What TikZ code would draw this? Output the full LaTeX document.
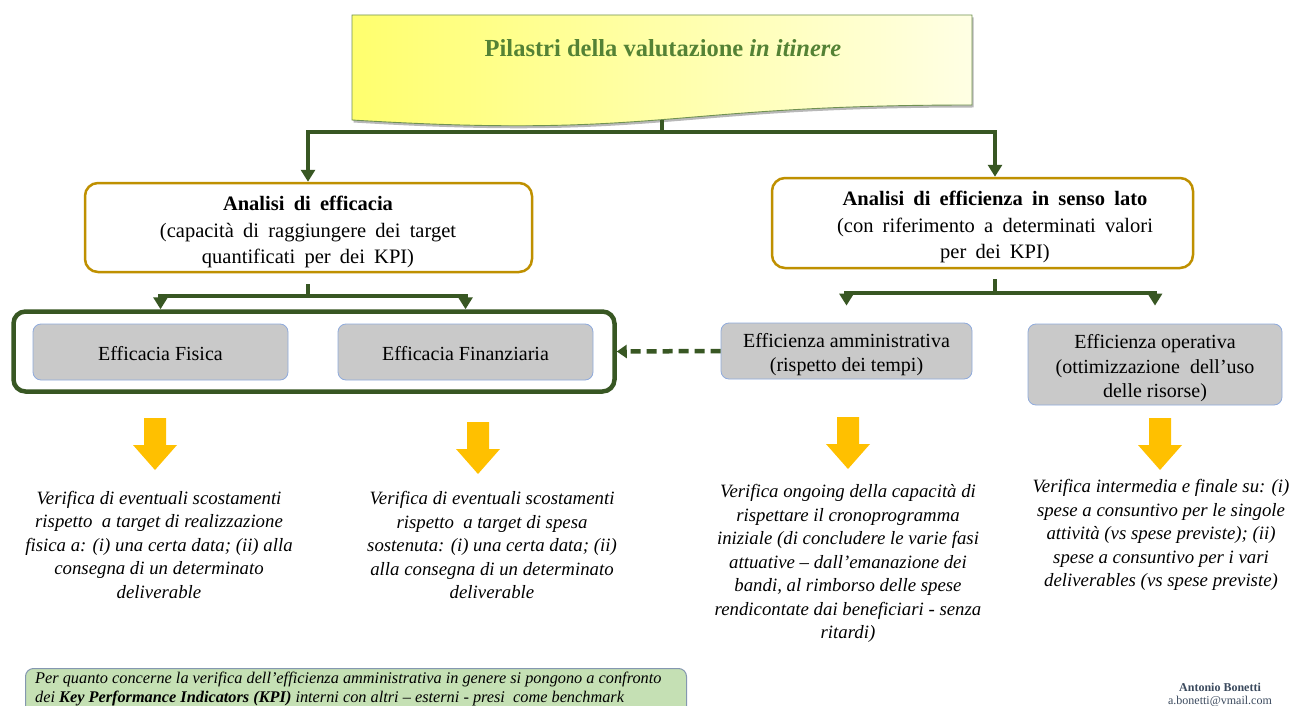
\documentclass[tikz,border=0pt]{standalone}
\usepackage{fontspec}
\setmainfont{Liberation Serif}
\usetikzlibrary{arrows.meta,calc}
\definecolor{dkgreen}{RGB}{56,87,35}
\definecolor{gold}{RGB}{191,144,0}
\definecolor{ttlgreen}{RGB}{84,130,53}
\definecolor{ttlborder}{RGB}{112,145,82}
\definecolor{ylwA}{RGB}{255,255,110}
\definecolor{ylwB}{RGB}{255,255,228}
\definecolor{boxgray}{RGB}{201,201,201}
\definecolor{boxblue}{RGB}{143,170,220}
\definecolor{amber}{RGB}{255,192,0}
\definecolor{notegreen}{RGB}{197,224,180}
\definecolor{noteborder}{RGB}{132,151,176}
\definecolor{sigcol}{RGB}{59,74,94}
\newcommand\widespaces{\spaceskip=0.45em\relax}
\begin{document}
\begin{tikzpicture}[x=1pt,y=-1pt,
  connline/.style={draw=dkgreen,line width=4.5pt},
  conarrow/.style={connline,-{Triangle[width=14pt,length=12pt]}},
  dasharrow/.style={draw=dkgreen,line width=4.5pt,dash pattern=on 10pt off 6pt,-{Triangle[width=13pt,length=10pt]}},
  goldbox/.style={draw=gold,line width=2.5pt,fill=white,rounded corners=13pt,inner sep=0pt},
  boxtxt/.style={align=center,inner sep=0pt,font=\fontsize{20.5}{26.5}\selectfont},
  graybox/.style={draw=boxblue,line width=0.8pt,fill=boxgray,rounded corners=8pt,inner sep=0pt},
  graytxt/.style={align=center,inner sep=0pt,font=\fontsize{20}{24.5}\selectfont},
  greencont/.style={draw=dkgreen,line width=4.5pt,rounded corners=12pt,inner sep=0pt},
  vtext/.style={align=center,inner sep=0pt,font=\fontsize{18.8}{23.5}\selectfont\itshape},
  yarrow/.pic={\fill[amber] (-11,0) -- (11,0) -- (11,27) -- (22,27) -- (0,52) -- (-22,27) -- (-11,27) -- cycle;}
]
\useasboundingbox (0,0) rectangle (1293,706);
\clip (0,0) rectangle (1293,706);
\fill[white] (0,0) rectangle (1293,706);

% title shape
\begin{scope}[shift={(1.5,2.5)}]
\fill[black!28] (352,15) -- (972,15) -- (972,105) .. controls (662,105) and (662,139) .. (352,120) -- cycle;
\end{scope}
\path[left color=ylwA,right color=ylwB,draw=ttlborder,line width=0.9pt]
  (352,15) -- (972,15) -- (972,105) .. controls (662,105) and (662,139) .. (352,120) -- cycle;
\node[text=ttlgreen,inner sep=0pt,font=\fontsize{24.5}{28}\selectfont\bfseries] (title) at (663,48) {Pilastri della valutazione \textit{in itinere}};
\coordinate (titlebot) at (662,120);
\coordinate (j1) at (662,132);

% analysis boxes
\node[goldbox,minimum width=447pt,minimum height=89pt] (effA) at (308.5,227.5) {};
\node[boxtxt] (effAt) at (308,232) {\widespaces\textbf{Analisi di efficacia}\\\widespaces(capacità di raggiungere dei target\\\widespaces quantificati per dei KPI)};
\node[goldbox,minimum width=421pt,minimum height=90pt] (effB) at (982.5,223) {};
\node[boxtxt] (effBt) at (995,227) {\widespaces\textbf{Analisi di efficienza in senso lato}\\\widespaces(con riferimento a determinati valori\\\widespaces per dei KPI)};

% container and gray boxes
\node[greencont,minimum width=601pt,minimum height=80pt] (cont) at (314,351.5) {};
\node[graybox,minimum width=255pt,minimum height=56pt] (fis) at (160.5,352) {};
\node[graybox,minimum width=255pt,minimum height=56pt] (fin) at (465.5,352) {};
\node[graybox,minimum width=251pt,minimum height=56pt] (amm) at (846.5,351) {};
\node[graybox,minimum width=254pt,minimum height=81pt] (ope) at (1155,364.5) {};
\node[graytxt] (fisT) at ([yshift=-2pt]fis.center) {Efficacia Fisica};
\node[graytxt] (finT) at ([yshift=-2pt]fin.center) {Efficacia Finanziaria};
\node[graytxt] (ammT) at ([yshift=-3.5pt]amm.center) {Efficienza amministrativa\\(rispetto dei tempi)};
\node[graytxt] (opeT) at ([yshift=-4pt]ope.center) {Efficienza operativa\\(ottimizzazione\ \ dell’uso\\delle risorse)};

% connectors
\draw[connline] (titlebot) -- (j1);
\draw[conarrow] (j1) -| (effAt |- effA.north);
\draw[conarrow] (j1) -| (effBt |- effB.north);
\coordinate (j2) at (308,296);
\draw[connline] ($(effAt |- effA.south)+(0,11)$) -- (j2);
\draw[conarrow] (j2) -| (fis.north |- cont.north);
\draw[conarrow] (j2) -| (fin.north |- cont.north);
\coordinate (j3) at (995,293);
\draw[connline] ($(effBt |- effB.south)+(0,10)$) -- (j3);
\draw[conarrow] (j3) -| ([yshift=17pt]amm.north);
\draw[conarrow] (j3) -| ([yshift=18pt]ope.north);
\draw[dasharrow] (amm.west) -- (cont.east);

% yellow block arrows
\pic at (155,418) {yarrow};
\pic at (478,422) {yarrow};
\pic at (848,417) {yarrow};
\pic at (1160,418) {yarrow};

% descriptive texts
\node[vtext] (t1) at (159,544.5) {Verifica di eventuali scostamenti\\rispetto\ \ a target di realizzazione\\fisica a: (i) una certa data; (ii) alla\\consegna di un determinato\\deliverable};
\node[vtext] (t2) at (492,545) {Verifica di eventuali scostamenti\\rispetto\ \ a target di spesa\\sostenuta: (i) una certa data; (ii)\\alla consegna di un determinato\\deliverable};
\node[vtext] (t3) at (848,563.5) {Verifica ongoing della capacità di\\rispettare il cronoprogramma\\iniziale (di concludere le varie fasi\\attuative – dall’emanazione dei\\bandi, al rimborso delle spese\\rendicontate dai beneficiari - senza\\ritardi)};
\node[vtext] (t4) at (1161,535) {Verifica intermedia e finale su: (i)\\spese a consuntivo per le singole\\attività (vs spese previste); (ii)\\spese a consuntivo per i vari\\deliverables (vs spese previste)};

% bottom note
\node[draw=noteborder,fill=notegreen,line width=1pt,rounded corners=8pt,minimum width=661pt,minimum height=60pt,anchor=north west,inner sep=0pt] (note) at (25,668) {};
\node[anchor=west,align=left,inner sep=0pt,font=\fontsize{16.3}{19}\selectfont\itshape] (notetext) at (35,689) {Per quanto concerne la verifica dell’efficienza amministrativa in genere si pongono a confronto\\dei \textbf{Key Performance Indicators (KPI)} interni con altri – esterni - presi\ \ come benchmark};

% signature
\node[align=center,inner sep=0pt,text=sigcol,font=\fontsize{12}{13}\selectfont] (sig) at (1220,694.5) {\textbf{Antonio Bonetti}\\a.bonetti@vmail.com};
\end{tikzpicture}
\end{document}
